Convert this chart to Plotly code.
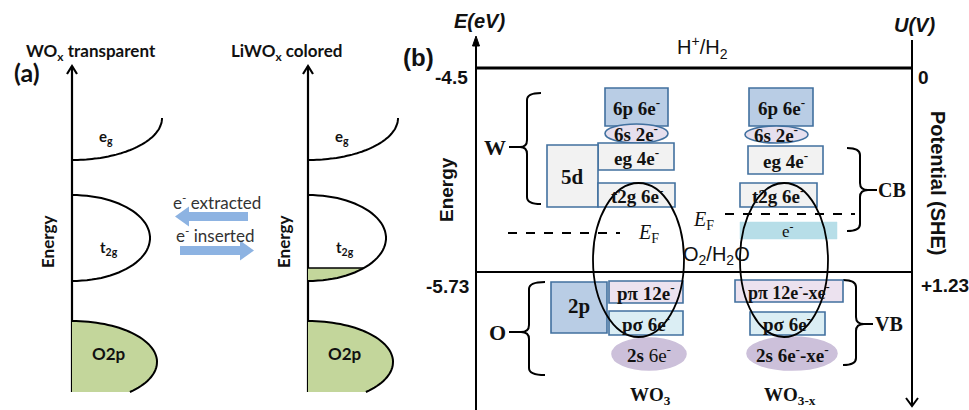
import numpy as np
import plotly.graph_objects as go

W_PX, H_PX = 969, 410

# ---------------- data (values & labels) ----------------
# panel (b): reference levels on the energy scale and the potential scale
ref_energy = [-4.5, -5.73]                       # eV (vacuum scale)
ref_energy_labels = ["-4.5", "-5.73"]
ref_potential_labels = ["0", "+1.23"]             # V vs SHE
redox_labels = ["H<sup>+</sup>/H<sub>2</sub>", "O<sub>2</sub>/H<sub>2</sub>O"]

# orbital labels of the two columns
wo3_levels = ["<b>6p 6e<sup>-</sup></b>", "<b>6s 2e<sup>-</sup></b>", "<b>eg 4e<sup>-</sup></b>",
              "<b>t2g 6e<sup>-</sup></b>", "<b>pπ 12e<sup>-</sup></b>", "<b>pσ 6e<sup>-</sup></b>",
              "<b>2s</b> 6e<sup>-</sup>"]
wo3x_levels = ["<b>6p 6e<sup>-</sup></b>", "<b>6s 2e<sup>-</sup></b>", "<b>eg 4e<sup>-</sup></b>",
               "<b>t2g 6e<sup>-</sup></b>", "<b>pπ 12e<sup>-</sup>-xe<sup>-</sup></b>",
               "<b>pσ 6e<sup>-</sup></b>", "<b>2s 6e<sup>-</sup>-xe<sup>-</sup></b>"]
parent_orbitals = ["5d", "2p"]
elements = ["W", "O"]
band_labels = ["CB", "VB"]
column_labels = ["WO<sub>3</sub>", "WO<sub>3-x</sub>"]

# panel (a)
a_titles = ["WO<sub>x</sub> transparent", "LiWO<sub>x</sub> colored"]
a_bands = ["e<sub>g</sub>", "t<sub>2g</sub>", "O2p"]
a_arrows = ["e<sup>-</sup> extracted", "e<sup>-</sup> inserted"]

# ---------------- styles ----------------
SERIF = "Liberation Serif"
SANS = "Liberation Sans"
CAL = "Lato"
BLUE_LINE = "#41709f"
C_6P = "#b9cde5"
C_6S = "#e6dfee"
C_D = "#f2f2f2"
C_PPI = "#ece2ef"
C_PSIG = "#dbeef4"
C_2S = "#ccc0da"
C_E = "#b7dee8"
C_GREEN = "#c3d69b"
C_ARROW = "#8db3e2"

shapes = []
ann = []


def txt(x, y, s, size, family, color="#111", angle=0, xanchor="center", yref="y", yshift=0):
    ann.append(dict(x=x, y=y, xref="x", yref=yref, text=s, showarrow=False,
                    font=dict(size=size, family=family, color=color),
                    textangle=angle, xanchor=xanchor, yanchor="middle", yshift=yshift))


def rect(x0, y0, x1, y1, fill, line=BLUE_LINE, lw=1.6):
    shapes.append(dict(type="rect", xref="x", yref="y", x0=x0, y0=y0, x1=x1, y1=y1,
                       fillcolor=fill, line=dict(color=line, width=lw), layer="above"))


def oval(x0, y0, x1, y1, fill=None, line=BLUE_LINE, lw=1.6):
    shapes.append(dict(type="circle", xref="x", yref="y", x0=x0, y0=y0, x1=x1, y1=y1,
                       line=dict(color=line, width=lw), layer="above",
                       fillcolor=fill if fill else "rgba(0,0,0,0)"))


def line(x0, y0, x1, y1, color="black", w=2, dash="solid", yref="y"):
    shapes.append(dict(type="line", xref="x", yref=yref, x0=x0, y0=y0, x1=x1, y1=y1,
                       line=dict(color=color, width=w, dash=dash), layer="above"))


def path(p, fill=None, color="black", w=2):
    d = dict(type="path", xref="x", yref="y", path=p, layer="above",
             line=dict(color=color, width=w))
    d["fillcolor"] = fill if fill else "rgba(0,0,0,0)"
    if w == 0:
        d["line"] = dict(width=0, color="rgba(0,0,0,0)")
    shapes.append(d)


def arc_pts(cx, cy, rx, ry, t0, t1, n=50):
    t = np.radians(np.linspace(t0, t1, n))
    return list(zip(cx + rx * np.cos(t), cy + ry * np.sin(t)))


def poly(pts, close=False):
    s = "M " + " L ".join(f"{x:.1f},{y:.1f}" for x, y in pts)
    return s + (" Z" if close else "")


def brace(xv, xh, xt, y0, ym, y1, r=7):
    return (f"M {xh},{y0} Q {xv},{y0} {xv},{y0 + r} L {xv},{ym - r} Q {xv},{ym} {xt},{ym} "
            f"Q {xv},{ym} {xv},{ym + r} L {xv},{y1 - r} Q {xv},{y1} {xh},{y1}")


# ================= panel (a) =================
for k, ax_x in enumerate([72, 308]):
    line(ax_x, 392, ax_x, 66, w=2.2)
    path(f"M {ax_x - 5},{74} L {ax_x},{66} L {ax_x + 5},{74}", w=2.2)
    t_clip = np.degrees(np.arcsin((392 - 362) / 41))
    lobe = arc_pts(ax_x, 362, 85, 41, -90, t_clip)
    path(poly(lobe + [(ax_x, 392)], close=True), fill=C_GREEN, w=0)
    path(poly(lobe), w=2)
    if k == 1:
        t_f = np.degrees(np.arcsin((268 - 238) / 43))
        fill_pts = [(ax_x, 268)] + arc_pts(ax_x, 238, 78, 43, t_f, 90)
        path(poly(fill_pts, close=True), fill=C_GREEN, w=0)
        path(poly(fill_pts[:2]), w=1.5)
    path(poly(arc_pts(ax_x, 238, 78, 43, -90, 90)), w=2)
    path(poly(arc_pts(ax_x, 118, 90, 42, 90, 0)), w=2)

    txt(ax_x + 34, 137, "<b>" + a_bands[0] + "</b>", 15, CAL)
    txt(ax_x + 37, 248, "<b>" + a_bands[1] + "</b>", 15, CAL)
    txt(ax_x + 37, 353, "<b>" + a_bands[2] + "</b>", 17, CAL)
    txt(ax_x - 25, 242, "<b>Energy</b>", 17, CAL, angle=-90)

txt(91, 52, "<b>" + a_titles[0] + "</b>", 17, CAL)
txt(286, 52, "<b>" + a_titles[1] + "</b>", 17, CAL)
txt(27, 72, "<b>(a)</b>", 25, CAL)

path("M 175,216.5 L 189,206.5 L 189,212 L 248,212 L 248,221 L 189,221 L 189,226.5 Z", fill=C_ARROW, w=0)
path("M 254,250.5 L 240,240.5 L 240,246 L 180,246 L 180,255 L 240,255 L 240,260.5 Z", fill=C_ARROW, w=0)
txt(217, 201, a_arrows[0], 17, CAL, color="#333")
txt(215, 234, a_arrows[1], 17, CAL, color="#333")

# ================= panel (b) =================
line(476, 410, 476, 40, w=2)
path("M 472.5,46 L 476,36 L 479.5,46 Z", fill="black", w=1)
line(912, 40, 912, 406, w=2)
path("M 906,398 L 912,406 L 918,398", w=2)

# reference levels drawn on the energy axis (y2)
shifts = [(-9, -9), (-14, -13)]
for i, (e, lab, pot) in enumerate(zip(ref_energy, ref_energy_labels, ref_potential_labels)):
    line(476, e, 912, e, w=3 if i == 0 else 2, yref="y2")
    txt(451 if i == 0 else 447, e, "<b>" + lab + "</b>", 19, SANS, yref="y2", yshift=shifts[i][0])
    txt(923 if i == 0 else 945, e, "<b>" + pot + "</b>", 19, SANS, yref="y2", yshift=shifts[i][1])

txt(702, 47, redox_labels[0], 20, SANS)
txt(716, 255, redox_labels[1], 20, SANS)

txt(479, 21, "<b><i>E(eV)</i></b>", 20, SANS)
txt(914, 25, "<b><i>U(V)</i></b>", 20, SANS)
txt(418, 57, "<b>(b)</b>", 24, SANS)
txt(446, 190, "<b>Energy</b>", 19, SANS, angle=-90)
txt(938, 183, "<b>Potential (SHE)</b>", 20, SANS, angle=90)

path(brace(527, 541, 520, 93, 147, 204))
line(509, 147, 520, 147, w=2)
path(brace(529, 545, 521, 282, 332, 375))
line(509, 332, 521, 332, w=2)
path(brace(860, 847, 868, 148, 190, 231))
line(868, 190, 877, 190, w=2)
path(brace(856, 843, 864, 280, 324, 365))
line(864, 324, 873, 324, w=2)
txt(495, 147, "<b>" + elements[0] + "</b>", 22, SERIF)
txt(497, 332, "<b>" + elements[1] + "</b>", 22, SERIF)
txt(892, 190, "<b>" + band_labels[0] + "</b>", 20, SERIF)
txt(889, 324, "<b>" + band_labels[1] + "</b>", 20, SERIF)

# WO3 column
rect(605, 88, 668, 126, C_6P)
oval(605, 124, 668, 143, C_6S)
rect(598, 143, 674, 170, C_D)
rect(547, 145, 598, 207, C_D)
rect(598, 183, 675, 207, C_D)
rect(551, 282, 607, 333, C_6P)
rect(609, 281, 683, 303, C_PPI)
rect(609, 311, 683, 335, C_PSIG)
oval(612, 338, 686, 370, C_2S, line=C_2S)
box_c_wo3 = [(636, 107), (636, 133), (636, 157), (637, 195), (646, 292), (646, 323), (649, 354)]
for (x, y), s in zip(box_c_wo3, wo3_levels):
    txt(x, y, s, 19, SERIF)
txt(572, 177, "<b>" + parent_orbitals[0] + "</b>", 21, SERIF)
txt(579, 306, "<b>" + parent_orbitals[1] + "</b>", 21, SERIF)

# WO3-x column
rect(749, 88, 813, 126, C_6P)
oval(745, 126, 808, 143, C_6S)
rect(748, 146, 823, 174, C_D)
rect(740, 183, 817, 207, C_D)
rect(740, 222, 837, 239, C_E, line=C_E, lw=0.5)
rect(735, 280, 843, 302, C_PPI)
rect(750, 312, 825, 335, C_PSIG)
oval(747, 337, 837, 370, C_2S, line=C_2S)
box_c_wo3x = [(781, 107), (776, 134), (785, 160), (778, 195), (789, 291), (787, 323), (792, 354)]
for (x, y), s in zip(box_c_wo3x, wo3x_levels):
    txt(x, y, s, 19 if s != wo3x_levels[4] else 18, SERIF)
txt(788, 230, "e<sup>-</sup>", 17, SERIF)

line(508, 233, 620, 233, w=2, dash="dash")
line(725, 214, 855, 214, w=2, dash="dash")
txt(648, 233, "<i>E</i><sub>F</sub>", 20, SERIF)
txt(703, 220, "<i>E</i><sub>F</sub>", 20, SERIF)

oval(593, 183, 684, 337, None, line="black", lw=1.8)
oval(740, 183, 828, 337, None, line="black", lw=1.8)

txt(650, 396, "<b>" + column_labels[0] + "</b>", 19, SERIF)
txt(790, 396, "<b>" + column_labels[1] + "</b>", 19, SERIF)

# ---------------- figure ----------------
px_per_ev = (272 - 68) / (ref_energy[0] - ref_energy[1])
y2_top = ref_energy[0] + 68 / px_per_ev
y2_bot = ref_energy[0] - (H_PX - 68) / px_per_ev

fig = go.Figure()
fig.add_trace(go.Scatter(x=[0, W_PX], y=[0, H_PX], mode="markers",
                         marker=dict(opacity=0), hoverinfo="skip", showlegend=False))
fig.update_layout(
    width=W_PX, height=H_PX, margin=dict(l=0, r=0, t=0, b=0),
    paper_bgcolor="white", plot_bgcolor="white", showlegend=False,
    xaxis=dict(range=[0, W_PX], visible=False, fixedrange=True),
    yaxis=dict(range=[H_PX, 0], visible=False, fixedrange=True),
    yaxis2=dict(range=[y2_bot, y2_top], visible=False, overlaying="y", fixedrange=True),
    shapes=shapes, annotations=ann,
)
fig.write_html("out.html", config={"displayModeBar": False},
               post_script="document.body.style.margin='0';document.body.style.overflow='hidden';")
